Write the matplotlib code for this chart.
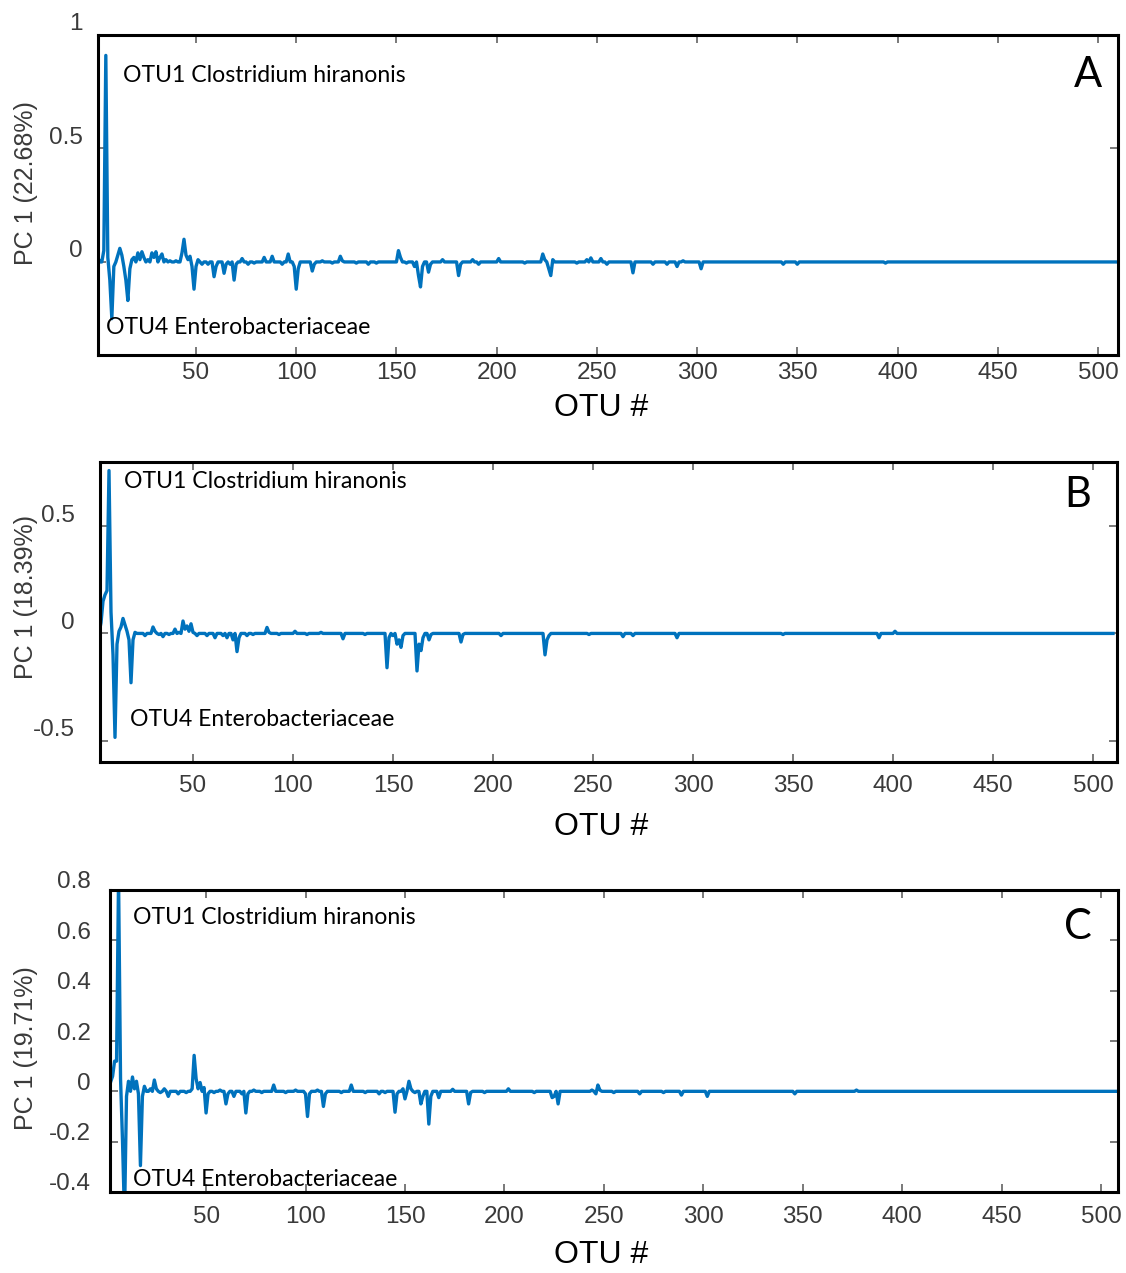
import numpy as np
import matplotlib
matplotlib.use("Agg")
import matplotlib.pyplot as plt
import matplotlib.transforms as mtransforms

# PC1 loadings per OTU (OTUs not listed sit on zero)
otu_a = [1, 4, 5, 6, 7, 8, 9, 11, 12, 13, 14, 15, 16, 17, 18, 19, 21, 22, 23, 24, 26, 28, 29,
         30, 32, 33, 35, 37, 40, 43, 44, 45, 46, 47, 48, 49, 50, 51, 53, 56, 59, 60, 64, 65, 67,
         69, 70, 73, 76, 79, 84, 88, 93, 96, 99, 100, 101, 108, 109, 113, 118, 122, 123, 130,
         136, 140, 151, 152, 155, 159, 161, 162, 163, 166, 167, 173, 181, 182, 188, 191, 201,
         214, 223, 224, 226, 227, 228, 240, 245, 247, 252, 255, 268, 278, 285, 290, 293, 302,
         343, 350, 394]
load_a = [0.02, 0.05, 0.91, 0.02, -0.08, -0.25, -0.02, 0.03, 0.06, 0.03, -0.02, -0.08, -0.17,
          -0.03, 0.01, 0.02, 0.04, 0.01, 0.045, 0.02, 0.01, 0.04, 0.02, 0.045, 0.02, 0.035, 0.01,
          0.005, 0.005, 0.04, 0.10, 0.03, 0.01, 0.025, -0.02, -0.12, -0.02, 0.01, -0.01, -0.01,
          -0.065, -0.02, -0.05, -0.01, -0.01, -0.08, -0.01, 0.015, -0.01, -0.005, 0.02, 0.025,
          -0.01, 0.035, -0.02, -0.12, -0.03, -0.04, -0.01, 0.005, -0.005, 0.025, 0.005, -0.005,
          -0.01, -0.005, 0.05, 0.02, -0.005, -0.02, -0.06, -0.11, -0.02, -0.045, -0.01, 0.01,
          -0.06, -0.01, 0.01, -0.01, 0.015, -0.005, 0.035, 0.01, -0.03, -0.06, 0.01, -0.005,
          0.01, 0.018, 0.015, -0.01, -0.048, -0.01, -0.01, -0.02, 0.005, -0.03, -0.01, -0.01,
          -0.005]

otu_b = [4, 5, 6, 7, 8, 9, 10, 11, 12, 13, 14, 15, 16, 17, 18, 19, 20, 21, 26, 30, 31, 33, 35,
         38, 41, 43, 45, 46, 47, 48, 49, 50, 52, 57, 61, 65, 67, 70, 72, 73, 77, 80, 87, 88, 93,
         101, 107, 114, 125, 136, 147, 148, 150, 152, 153, 154, 155, 162, 163, 164, 165, 168,
         169, 184, 185, 204, 226, 227, 228, 248, 265, 270, 292, 345, 393, 401]
load_b = [0.05, 0.15, 0.18, 0.2, 0.76, 0.1, -0.1, -0.485, -0.05, 0.01, 0.03, 0.07, 0.04, 0.01,
          -0.03, -0.23, -0.03, 0.005, -0.01, 0.03, 0.01, -0.005, -0.015, -0.005, 0.02, 0.005,
          0.058, 0.02, 0.035, 0.01, 0.045, 0.005, -0.01, -0.01, -0.02, -0.01, -0.02, -0.03,
          -0.085, -0.02, -0.01, -0.005, 0.028, 0.005, -0.005, 0.01, -0.005, 0.005, -0.025,
          -0.005, -0.16, -0.02, -0.01, -0.05, -0.03, -0.065, -0.01, -0.175, -0.05, -0.08, -0.02,
          -0.03, -0.005, -0.04, -0.005, -0.01, -0.1, -0.03, -0.01, -0.005, -0.015, -0.01, -0.02,
          -0.005, -0.02, 0.01]

otu_c = [2, 3, 4, 5, 6, 7, 8, 9, 10, 11, 13, 14, 15, 16, 17, 18, 19, 22, 24, 25, 27, 29, 31,
         36, 40, 43, 44, 45, 46, 47, 49, 50, 51, 54, 57, 60, 61, 64, 68, 70, 71, 74, 78, 84, 90,
         95, 100, 101, 102, 106, 109, 110, 118, 123, 130, 137, 140, 145, 146, 149, 150, 152,
         153, 155, 158, 159, 162, 163, 167, 174, 182, 183, 190, 202, 215, 224, 225, 227, 244,
         246, 247, 248, 255, 268, 280, 289, 302, 346, 377]
load_c = [0.037, 0.06, 0.12, 0.12, 0.85, 0.05, -0.2, -0.5, -0.02, 0.04, 0.057, 0.01, 0.04,
          -0.01, -0.295, -0.02, 0.02, 0.01, 0.045, 0.01, -0.005, 0.01, -0.02, -0.01, -0.005,
          0.01, 0.143, 0.05, 0.01, 0.035, 0.015, -0.086, -0.01, -0.005, 0.005, -0.05, -0.01,
          -0.02, -0.01, -0.086, -0.01, 0.005, -0.005, 0.025, -0.005, 0.005, -0.01, -0.1, -0.01,
          0.005, -0.06, -0.01, -0.005, 0.025, -0.005, -0.01, -0.005, -0.083, -0.01, 0.01, -0.03,
          0.04, 0.01, -0.005, -0.05, -0.02, -0.13, -0.02, -0.025, 0.008, -0.05, -0.005, -0.005,
          0.01, -0.005, -0.025, -0.02, -0.05, 0.005, -0.01, 0.025, 0.005, -0.005, -0.01, -0.005,
          -0.015, -0.02, -0.01, 0.005]

n_otu = 510
xticks = [50, 100, 150, 200, 250, 300, 350, 400, 450, 500]

panels = [
    dict(otu=otu_a, load=load_a, letter="A", ylabel="PC 1 (22.68%)",
         yticks=[0, 0.5, 1], yticklabels=["0", "0.5", "1"]),
    dict(otu=otu_b, load=load_b, letter="B", ylabel="PC 1 (18.39%)",
         yticks=[-0.5, 0, 0.5], yticklabels=["-0.5", "0", "0.5"]),
    dict(otu=otu_c, load=load_c, letter="C", ylabel="PC 1 (19.71%)",
         yticks=[-0.4, -0.2, 0, 0.2, 0.4, 0.6, 0.8],
         yticklabels=["-0.4", "-0.2", "0", "0.2", "0.4", "0.6", "0.8"]),
]

# layout, measured in pixels of the 1126x1273 picture
W, H = 1126, 1273
boxes = [(98, 35, 1118, 355), (100, 462, 1117, 762), (110, 890, 1118, 1192)]
xlims = [(1.1, 510), (3.5, 512), (1.7, 508.5)]
ylims = [(-0.41, 1.0), (-0.6, 0.8), (-0.4, 0.8)]
xpads = [5, 9, 10]
ypads = [11, 18, 14]
ylab_shift = [13, 13, 10]
ylab_pos = [(38, 183), (38, 597), (38, 1048)]   # right edge of the rotated label
xlab_top = [393, 812, 1240]
otu1_pos = [(123, 75), (124, 481), (133, 918)]
otu4_pos = [(106, 328), (130, 720), (133, 1180)]
letter_pos = [(1088, 75), (1078, 495), (1078, 927)]

tick_font = ["Liberation Sans", "DejaVu Sans"]
note_font = ["Lato", "DejaVu Sans"]
blue = "#0072BD"
grey = "#3a3a3a"

fig = plt.figure(figsize=(W / 100, H / 100), dpi=100)

for i, p in enumerate(panels):
    l, t, r, b = boxes[i]
    ax = fig.add_axes([l / W, 1 - b / H, (r - l) / W, (b - t) / H])

    x = np.arange(1, n_otu + 1)
    y = np.zeros(n_otu)
    y[np.array(p["otu"]) - 1] = p["load"]
    ax.plot(x, y, color=blue, lw=2.4)

    ax.set_xlim(*xlims[i])
    ax.set_ylim(*ylims[i])
    ax.set_xticks(xticks)
    ax.set_yticks(p["yticks"])
    ax.set_yticklabels(p["yticklabels"])

    for s in ax.spines.values():
        s.set_linewidth(2.2)
        s.set_color("black")
    ax.tick_params(direction="in", length=6, width=1.1, color="#555555",
                   top=True, right=True, labelsize=17.5, labelcolor=grey)
    ax.tick_params(axis="x", pad=xpads[i])
    ax.tick_params(axis="y", pad=ypads[i])
    for lab in ax.get_xticklabels() + ax.get_yticklabels():
        lab.set_family(tick_font)

    ax.set_ylabel(p["ylabel"], fontsize=18, color=grey, family=tick_font)
    ax.yaxis.set_label_coords((ylab_pos[i][0] - l) / (r - l), (b - ylab_pos[i][1]) / (b - t))
    ax.set_xlabel("OTU #", fontsize=23, color="black", family=tick_font)
    ax.xaxis.set_label_coords((601 - l) / (r - l), (b - xlab_top[i]) / (b - t))

    # y tick labels sit a little above their ticks in the original
    shift = mtransforms.ScaledTranslation(0, ylab_shift[i] / 100, fig.dpi_scale_trans)
    for lab in ax.get_yticklabels():
        lab.set_transform(lab.get_transform() + shift)

    fig.text(otu1_pos[i][0] / W, 1 - otu1_pos[i][1] / H, "OTU1 Clostridium hiranonis",
             fontsize=16.6, family=note_font, va="center", ha="left")
    fig.text(otu4_pos[i][0] / W, 1 - otu4_pos[i][1] / H, "OTU4 Enterobacteriaceae",
             fontsize=16.6, family=note_font, va="center", ha="left")
    fig.text(letter_pos[i][0] / W, 1 - letter_pos[i][1] / H, p["letter"],
             fontsize=30, family=note_font, va="center", ha="center")

fig.savefig("out.png", dpi=100)
